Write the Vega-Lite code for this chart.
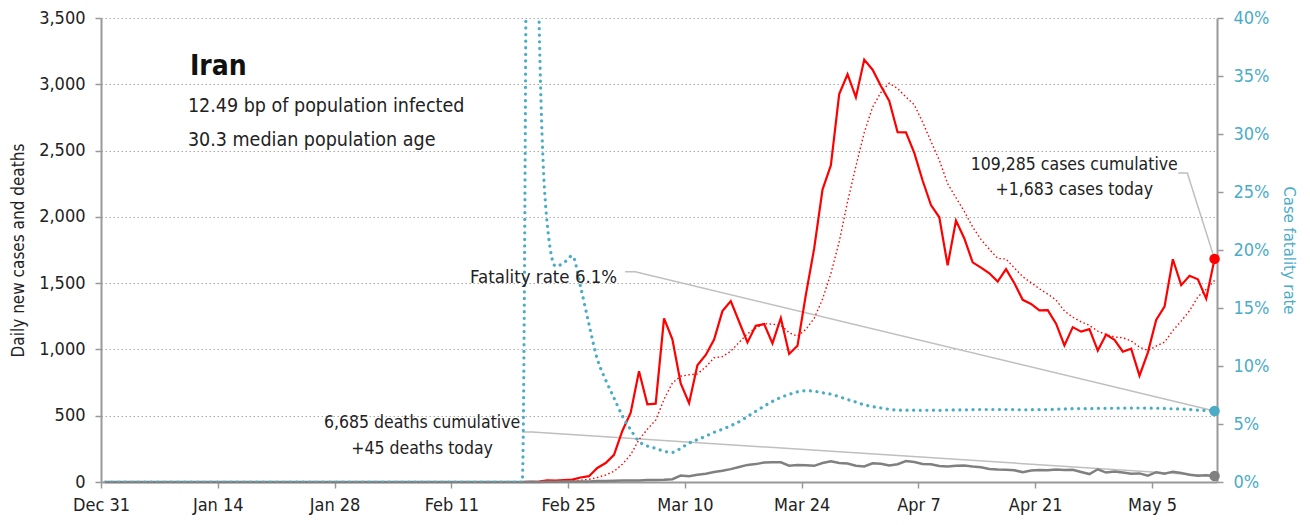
{
  "$schema": "https://vega.github.io/schema/vega-lite/v6.json",
  "width": 1116,
  "height": 464,
  "autosize": {"type": "none"},
  "padding": {"left": 101, "top": 18, "right": 93, "bottom": 43},
  "background": "white",
  "config": {
    "font": "DejaVu Sans Condensed, sans-serif",
    "view": {"stroke": null}
  },
  "datasets": {
    "daily": [
      {"date":"2019-12-31T12:00","cases":0,"avg7":0,"deaths":0,"cfr":0},
      {"date":"2020-01-01T12:00","cases":0,"avg7":0,"deaths":0,"cfr":0},
      {"date":"2020-01-02T12:00","cases":0,"avg7":0,"deaths":0,"cfr":0},
      {"date":"2020-01-03T12:00","cases":0,"avg7":0,"deaths":0,"cfr":0},
      {"date":"2020-01-04T12:00","cases":0,"avg7":0,"deaths":0,"cfr":0},
      {"date":"2020-01-05T12:00","cases":0,"avg7":0,"deaths":0,"cfr":0},
      {"date":"2020-01-06T12:00","cases":0,"avg7":0,"deaths":0,"cfr":0},
      {"date":"2020-01-07T12:00","cases":0,"avg7":0,"deaths":0,"cfr":0},
      {"date":"2020-01-08T12:00","cases":0,"avg7":0,"deaths":0,"cfr":0},
      {"date":"2020-01-09T12:00","cases":0,"avg7":0,"deaths":0,"cfr":0},
      {"date":"2020-01-10T12:00","cases":0,"avg7":0,"deaths":0,"cfr":0},
      {"date":"2020-01-11T12:00","cases":0,"avg7":0,"deaths":0,"cfr":0},
      {"date":"2020-01-12T12:00","cases":0,"avg7":0,"deaths":0,"cfr":0},
      {"date":"2020-01-13T12:00","cases":0,"avg7":0,"deaths":0,"cfr":0},
      {"date":"2020-01-14T12:00","cases":0,"avg7":0,"deaths":0,"cfr":0},
      {"date":"2020-01-15T12:00","cases":0,"avg7":0,"deaths":0,"cfr":0},
      {"date":"2020-01-16T12:00","cases":0,"avg7":0,"deaths":0,"cfr":0},
      {"date":"2020-01-17T12:00","cases":0,"avg7":0,"deaths":0,"cfr":0},
      {"date":"2020-01-18T12:00","cases":0,"avg7":0,"deaths":0,"cfr":0},
      {"date":"2020-01-19T12:00","cases":0,"avg7":0,"deaths":0,"cfr":0},
      {"date":"2020-01-20T12:00","cases":0,"avg7":0,"deaths":0,"cfr":0},
      {"date":"2020-01-21T12:00","cases":0,"avg7":0,"deaths":0,"cfr":0},
      {"date":"2020-01-22T12:00","cases":0,"avg7":0,"deaths":0,"cfr":0},
      {"date":"2020-01-23T12:00","cases":0,"avg7":0,"deaths":0,"cfr":0},
      {"date":"2020-01-24T12:00","cases":0,"avg7":0,"deaths":0,"cfr":0},
      {"date":"2020-01-25T12:00","cases":0,"avg7":0,"deaths":0,"cfr":0},
      {"date":"2020-01-26T12:00","cases":0,"avg7":0,"deaths":0,"cfr":0},
      {"date":"2020-01-27T12:00","cases":0,"avg7":0,"deaths":0,"cfr":0},
      {"date":"2020-01-28T12:00","cases":0,"avg7":0,"deaths":0,"cfr":0},
      {"date":"2020-01-29T12:00","cases":0,"avg7":0,"deaths":0,"cfr":0},
      {"date":"2020-01-30T12:00","cases":0,"avg7":0,"deaths":0,"cfr":0},
      {"date":"2020-01-31T12:00","cases":0,"avg7":0,"deaths":0,"cfr":0},
      {"date":"2020-02-01T12:00","cases":0,"avg7":0,"deaths":0,"cfr":0},
      {"date":"2020-02-02T12:00","cases":0,"avg7":0,"deaths":0,"cfr":0},
      {"date":"2020-02-03T12:00","cases":0,"avg7":0,"deaths":0,"cfr":0},
      {"date":"2020-02-04T12:00","cases":0,"avg7":0,"deaths":0,"cfr":0},
      {"date":"2020-02-05T12:00","cases":0,"avg7":0,"deaths":0,"cfr":0},
      {"date":"2020-02-06T12:00","cases":0,"avg7":0,"deaths":0,"cfr":0},
      {"date":"2020-02-07T12:00","cases":0,"avg7":0,"deaths":0,"cfr":0},
      {"date":"2020-02-08T12:00","cases":0,"avg7":0,"deaths":0,"cfr":0},
      {"date":"2020-02-09T12:00","cases":0,"avg7":0,"deaths":0,"cfr":0},
      {"date":"2020-02-10T12:00","cases":0,"avg7":0,"deaths":0,"cfr":0},
      {"date":"2020-02-11T12:00","cases":0,"avg7":0,"deaths":0,"cfr":0},
      {"date":"2020-02-12T12:00","cases":0,"avg7":0,"deaths":0,"cfr":0},
      {"date":"2020-02-13T12:00","cases":0,"avg7":0,"deaths":0,"cfr":0},
      {"date":"2020-02-14T12:00","cases":0,"avg7":0,"deaths":0,"cfr":0},
      {"date":"2020-02-15T12:00","cases":0,"avg7":0,"deaths":0,"cfr":0},
      {"date":"2020-02-16T12:00","cases":0,"avg7":0,"deaths":0,"cfr":0},
      {"date":"2020-02-17T12:00","cases":0,"avg7":0,"deaths":0,"cfr":0},
      {"date":"2020-02-18T12:00","cases":0,"avg7":0,"deaths":0,"cfr":0},
      {"date":"2020-02-19T12:00","cases":0,"avg7":0,"deaths":0,"cfr":0},
      {"date":"2020-02-20T12:00","cases":2,"avg7":0.3,"deaths":2,"cfr":1.0},
      {"date":"2020-02-21T12:00","cases":3,"avg7":0.7,"deaths":0,"cfr":0.405},
      {"date":"2020-02-22T12:00","cases":13,"avg7":2.6,"deaths":2,"cfr":0.222},
      {"date":"2020-02-23T12:00","cases":10,"avg7":4.0,"deaths":1,"cfr":0.186},
      {"date":"2020-02-24T12:00","cases":15,"avg7":6.1,"deaths":3,"cfr":0.189},
      {"date":"2020-02-25T12:00","cases":18,"avg7":8.7,"deaths":4,"cfr":0.195},
      {"date":"2020-02-26T12:00","cases":34,"avg7":13.6,"deaths":4,"cfr":0.168},
      {"date":"2020-02-27T12:00","cases":44,"avg7":19.6,"deaths":3,"cfr":0.136},
      {"date":"2020-02-28T12:00","cases":106,"avg7":34.3,"deaths":7,"cfr":0.106},
      {"date":"2020-02-29T12:00","cases":143,"avg7":52.9,"deaths":8,"cfr":0.088},
      {"date":"2020-03-01T12:00","cases":205,"avg7":80.7,"deaths":9,"cfr":0.0725},
      {"date":"2020-03-02T12:00","cases":385,"avg7":133.6,"deaths":11,"cfr":0.057},
      {"date":"2020-03-03T12:00","cases":523,"avg7":205.7,"deaths":12,"cfr":0.045},
      {"date":"2020-03-04T12:00","cases":835,"avg7":320.1,"deaths":11,"cfr":0.035},
      {"date":"2020-03-05T12:00","cases":586,"avg7":397.6,"deaths":15,"cfr":0.031},
      {"date":"2020-03-06T12:00","cases":591,"avg7":466.9,"deaths":15,"cfr":0.029},
      {"date":"2020-03-07T12:00","cases":1234,"avg7":622.7,"deaths":17,"cfr":0.0265},
      {"date":"2020-03-08T12:00","cases":1076,"avg7":747.1,"deaths":21,"cfr":0.0255},
      {"date":"2020-03-09T12:00","cases":743,"avg7":798.3,"deaths":49,"cfr":0.029},
      {"date":"2020-03-10T12:00","cases":595,"avg7":808.6,"deaths":43,"cfr":0.0335},
      {"date":"2020-03-11T12:00","cases":881,"avg7":815.1,"deaths":54,"cfr":0.0365},
      {"date":"2020-03-12T12:00","cases":958,"avg7":868.3,"deaths":63,"cfr":0.0395},
      {"date":"2020-03-13T12:00","cases":1075,"avg7":937.4,"deaths":75,"cfr":0.0428},
      {"date":"2020-03-14T12:00","cases":1289,"avg7":945.3,"deaths":85,"cfr":0.0455},
      {"date":"2020-03-15T12:00","cases":1365,"avg7":986.6,"deaths":97,"cfr":0.0485},
      {"date":"2020-03-16T12:00","cases":1209,"avg7":1053.1,"deaths":113,"cfr":0.052},
      {"date":"2020-03-17T12:00","cases":1053,"avg7":1118.6,"deaths":129,"cfr":0.0565},
      {"date":"2020-03-18T12:00","cases":1178,"avg7":1161.0,"deaths":135,"cfr":0.061},
      {"date":"2020-03-19T12:00","cases":1192,"avg7":1194.4,"deaths":147,"cfr":0.0654},
      {"date":"2020-03-20T12:00","cases":1046,"avg7":1190.3,"deaths":149,"cfr":0.0695},
      {"date":"2020-03-21T12:00","cases":1237,"avg7":1182.9,"deaths":149,"cfr":0.0729},
      {"date":"2020-03-22T12:00","cases":966,"avg7":1125.9,"deaths":123,"cfr":0.0755},
      {"date":"2020-03-23T12:00","cases":1028,"avg7":1100.0,"deaths":129,"cfr":0.0777},
      {"date":"2020-03-24T12:00","cases":1411,"avg7":1151.1,"deaths":127,"cfr":0.0786},
      {"date":"2020-03-25T12:00","cases":1762,"avg7":1234.6,"deaths":122,"cfr":0.0782},
      {"date":"2020-03-26T12:00","cases":2206,"avg7":1379.4,"deaths":143,"cfr":0.0769},
      {"date":"2020-03-27T12:00","cases":2389,"avg7":1571.3,"deaths":157,"cfr":0.0757},
      {"date":"2020-03-28T12:00","cases":2926,"avg7":1812.6,"deaths":144,"cfr":0.0735},
      {"date":"2020-03-29T12:00","cases":3076,"avg7":2114.0,"deaths":139,"cfr":0.0711},
      {"date":"2020-03-30T12:00","cases":2901,"avg7":2381.6,"deaths":123,"cfr":0.0689},
      {"date":"2020-03-31T12:00","cases":3186,"avg7":2635.1,"deaths":117,"cfr":0.0665},
      {"date":"2020-04-01T12:00","cases":3110,"avg7":2827.7,"deaths":141,"cfr":0.065},
      {"date":"2020-04-02T12:00","cases":2987,"avg7":2939.3,"deaths":138,"cfr":0.0638},
      {"date":"2020-04-03T12:00","cases":2875,"avg7":3008.7,"deaths":124,"cfr":0.0627},
      {"date":"2020-04-04T12:00","cases":2638,"avg7":2967.6,"deaths":134,"cfr":0.062},
      {"date":"2020-04-05T12:00","cases":2637,"avg7":2904.9,"deaths":158,"cfr":0.0619},
      {"date":"2020-04-06T12:00","cases":2483,"avg7":2845.1,"deaths":151,"cfr":0.0619},
      {"date":"2020-04-07T12:00","cases":2274,"avg7":2714.9,"deaths":136,"cfr":0.0618},
      {"date":"2020-04-08T12:00","cases":2089,"avg7":2569.0,"deaths":133,"cfr":0.0619},
      {"date":"2020-04-09T12:00","cases":1997,"avg7":2427.6,"deaths":121,"cfr":0.0618},
      {"date":"2020-04-10T12:00","cases":1634,"avg7":2250.3,"deaths":117,"cfr":0.0621},
      {"date":"2020-04-11T12:00","cases":1972,"avg7":2144.1,"deaths":122,"cfr":0.0621},
      {"date":"2020-04-12T12:00","cases":1837,"avg7":2040.9,"deaths":125,"cfr":0.0622},
      {"date":"2020-04-13T12:00","cases":1657,"avg7":1922.9,"deaths":117,"cfr":0.0624},
      {"date":"2020-04-14T12:00","cases":1617,"avg7":1829.0,"deaths":111,"cfr":0.0625},
      {"date":"2020-04-15T12:00","cases":1574,"avg7":1755.4,"deaths":98,"cfr":0.0625},
      {"date":"2020-04-16T12:00","cases":1512,"avg7":1686.1,"deaths":94,"cfr":0.0625},
      {"date":"2020-04-17T12:00","cases":1606,"avg7":1682.1,"deaths":92,"cfr":0.0624},
      {"date":"2020-04-18T12:00","cases":1499,"avg7":1614.6,"deaths":89,"cfr":0.0624},
      {"date":"2020-04-19T12:00","cases":1374,"avg7":1548.4,"deaths":73,"cfr":0.0622},
      {"date":"2020-04-20T12:00","cases":1343,"avg7":1503.6,"deaths":87,"cfr":0.0623},
      {"date":"2020-04-21T12:00","cases":1294,"avg7":1457.4,"deaths":91,"cfr":0.0624},
      {"date":"2020-04-22T12:00","cases":1297,"avg7":1417.9,"deaths":88,"cfr":0.0625},
      {"date":"2020-04-23T12:00","cases":1194,"avg7":1372.4,"deaths":94,"cfr":0.0627},
      {"date":"2020-04-24T12:00","cases":1030,"avg7":1290.1,"deaths":90,"cfr":0.063},
      {"date":"2020-04-25T12:00","cases":1168,"avg7":1242.9,"deaths":93,"cfr":0.0632},
      {"date":"2020-04-26T12:00","cases":1134,"avg7":1208.6,"deaths":76,"cfr":0.0633},
      {"date":"2020-04-27T12:00","cases":1153,"avg7":1181.4,"deaths":60,"cfr":0.0631},
      {"date":"2020-04-28T12:00","cases":991,"avg7":1138.1,"deaths":96,"cfr":0.0635},
      {"date":"2020-04-29T12:00","cases":1112,"avg7":1111.7,"deaths":71,"cfr":0.0635},
      {"date":"2020-04-30T12:00","cases":1073,"avg7":1094.4,"deaths":80,"cfr":0.0636},
      {"date":"2020-05-01T12:00","cases":983,"avg7":1087.7,"deaths":71,"cfr":0.0637},
      {"date":"2020-05-02T12:00","cases":1006,"avg7":1064.6,"deaths":63,"cfr":0.0637},
      {"date":"2020-05-03T12:00","cases":802,"avg7":1017.1,"deaths":65,"cfr":0.0638},
      {"date":"2020-05-04T12:00","cases":976,"avg7":991.9,"deaths":47,"cfr":0.0637},
      {"date":"2020-05-05T12:00","cases":1223,"avg7":1025.0,"deaths":74,"cfr":0.0636},
      {"date":"2020-05-06T12:00","cases":1323,"avg7":1055.1,"deaths":63,"cfr":0.0634},
      {"date":"2020-05-07T12:00","cases":1680,"avg7":1141.9,"deaths":78,"cfr":0.0631},
      {"date":"2020-05-08T12:00","cases":1485,"avg7":1213.6,"deaths":68,"cfr":0.0629},
      {"date":"2020-05-09T12:00","cases":1556,"avg7":1292.1,"deaths":55,"cfr":0.0625},
      {"date":"2020-05-10T12:00","cases":1529,"avg7":1396.0,"deaths":48,"cfr":0.062},
      {"date":"2020-05-11T12:00","cases":1383,"avg7":1454.1,"deaths":51,"cfr":0.0617},
      {"date":"2020-05-12T12:00","cases":1683,"avg7":1519.9,"deaths":45,"cfr":0.0612}
    ]
  },
  "encoding": {
    "x": {
      "field": "date",
      "type": "temporal",
      "scale": {"domain": [{"year": 2019, "month": 12, "date": 31}, {"year": 2020, "month": 5, "date": 12, "hours": 19}]},
      "axis": {
        "values": [
          {"year": 2019, "month": 12, "date": 31},
          {"year": 2020, "month": 1, "date": 14},
          {"year": 2020, "month": 1, "date": 28},
          {"year": 2020, "month": 2, "date": 11},
          {"year": 2020, "month": 2, "date": 25},
          {"year": 2020, "month": 3, "date": 10},
          {"year": 2020, "month": 3, "date": 24},
          {"year": 2020, "month": 4, "date": 7},
          {"year": 2020, "month": 4, "date": 21},
          {"year": 2020, "month": 5, "date": 5}
        ],
        "format": "%b %-d",
        "title": null,
        "grid": false,
        "domainColor": "#999999",
        "domainWidth": 2,
        "tickColor": "#999999",
        "tickWidth": 1.5,
        "tickSize": 6,
        "labelFontSize": 18,
        "labelColor": "#222222",
        "labelPadding": 8,
        "labelFlush": false
      }
    }
  },
  "layer": [
    {
      "data": {"values": [
        {"group": "cases", "step": 1, "date": "2020-05-08T03:36", "value": 2331},
        {"group": "cases", "step": 2, "date": "2020-05-09T05:30", "value": 2331},
        {"group": "cases", "step": 3, "date": "2020-05-12T12:00", "value": 1683},
        {"group": "cfr", "step": 1, "date": "2020-03-02T20:10", "value": 1586},
        {"group": "cfr", "step": 2, "date": "2020-03-04T01:00", "value": 1586},
        {"group": "cfr", "step": 3, "date": "2020-05-12T12:00", "value": 535.5},
        {"group": "deaths", "step": 1, "date": "2020-02-19T11:45", "value": 377},
        {"group": "deaths", "step": 2, "date": "2020-02-20T16:20", "value": 377},
        {"group": "deaths", "step": 3, "date": "2020-05-12T12:00", "value": 45}
      ]},
      "mark": {"type": "line", "color": "#bfbfbf", "strokeWidth": 1.5},
      "encoding": {
        "y": {
          "field": "value", "type": "quantitative",
          "scale": {"domain": [0, 3500], "nice": false},
          "axis": {
            "orient": "left",
            "values": [0, 500, 1000, 1500, 2000, 2500, 3000, 3500],
            "format": ",d",
            "title": "Daily new cases and deaths",
            "titleFontSize": 17,
            "titleFontWeight": "normal",
            "titleColor": "#222222",
            "titleX": -83,
            "titleY": 232,
            "titleAngle": -90,
            "titleAlign": "center",
            "titleBaseline": "middle",
            "grid": true,
            "gridColor": "#aaaaaa",
            "gridDash": [1.5, 2.5],
            "gridWidth": 1,
            "domainColor": "#999999",
            "domainWidth": 2,
            "tickColor": "#999999",
            "tickWidth": 1.5,
            "tickSize": 6,
            "labelFontSize": 18,
            "labelColor": "#222222",
            "labelPadding": 10
          }
        },
        "detail": {"field": "group"},
        "order": {"field": "step", "type": "quantitative"}
      }
    },
    {
      "data": {"name": "daily"},
      "mark": {"type": "line", "color": "#ff0000", "strokeWidth": 2.2},
      "encoding": {"y": {"field": "cases", "type": "quantitative", "scale": {"domain": [0, 3500], "nice": false}, "axis": null}}
    },
    {
      "data": {"name": "daily"},
      "mark": {"type": "line", "color": "#ff0000", "strokeWidth": 1.4, "strokeDash": [1.5, 2.5]},
      "encoding": {"y": {"field": "avg7", "type": "quantitative", "scale": {"domain": [0, 3500], "nice": false}, "axis": null}}
    },
    {
      "data": {"name": "daily"},
      "mark": {"type": "line", "color": "#808080", "strokeWidth": 2.5},
      "encoding": {"y": {"field": "deaths", "type": "quantitative", "scale": {"domain": [0, 3500], "nice": false}, "axis": null}}
    },
    {
      "data": {"name": "daily"},
      "mark": {"type": "line", "color": "#4bacc6", "strokeWidth": 3.2, "strokeDash": [0.1, 6.5], "strokeCap": "round", "interpolate": "monotone", "clip": true},
      "encoding": {
        "y": {
          "field": "cfr", "type": "quantitative",
          "scale": {"domain": [0, 0.4], "nice": false},
          "axis": {
            "orient": "right",
            "values": [0, 0.05, 0.1, 0.15, 0.2, 0.25, 0.3, 0.35, 0.4],
            "format": ".0%",
            "title": "Case fatality rate",
            "titleColor": "#4bacc6",
            "titleFontSize": 16.5,
            "titleFontWeight": "normal",
            "titleAngle": 90,
            "titleX": 71,
            "titleY": 232,
            "titleAlign": "center",
            "titleBaseline": "middle",
            "grid": false,
            "domainColor": "#999999",
            "domainWidth": 2,
            "tickColor": "#999999",
            "tickWidth": 1.5,
            "tickSize": 6,
            "labelColor": "#4bacc6",
            "labelFontSize": 18,
            "labelPadding": 10
          }
        }
      }
    },
    {
      "data": {"values": [{"date": "2020-05-12T12:00", "value": 1683}]},
      "mark": {"type": "point", "filled": true, "opacity": 1, "color": "#ff0000", "size": 110},
      "encoding": {"y": {"field": "value", "type": "quantitative", "scale": {"domain": [0, 3500], "nice": false}, "axis": null}}
    },
    {
      "data": {"values": [{"date": "2020-05-12T12:00", "value": 45}]},
      "mark": {"type": "point", "filled": true, "opacity": 1, "color": "#808080", "size": 110},
      "encoding": {"y": {"field": "value", "type": "quantitative", "scale": {"domain": [0, 3500], "nice": false}, "axis": null}}
    },
    {
      "data": {"values": [{"date": "2020-05-12T12:00", "cfr": 0.0612}]},
      "mark": {"type": "point", "filled": true, "opacity": 1, "color": "#4bacc6", "size": 110},
      "encoding": {"y": {"field": "cfr", "type": "quantitative", "scale": {"domain": [0, 0.4], "nice": false}, "axis": null}}
    },
    {
      "data": {"values": [{"date": "2020-01-10T16:00", "value": 3070, "label": "Iran"}]},
      "mark": {"type": "text", "align": "left", "baseline": "alphabetic", "fontSize": 28, "fontWeight": "bold", "color": "#111111"},
      "encoding": {"y": {"field": "value", "type": "quantitative", "scale": {"domain": [0, 3500], "nice": false}, "axis": null}, "text": {"field": "label"}}
    },
    {
      "data": {"values": [
        {"date": "2020-01-10T10:00", "value": 2791, "label": "12.49 bp of population infected"},
        {"date": "2020-01-10T10:00", "value": 2535, "label": "30.3 median population age"}
      ]},
      "mark": {"type": "text", "align": "left", "baseline": "alphabetic", "fontSize": 19.5, "color": "#222222"},
      "encoding": {"y": {"field": "value", "type": "quantitative", "scale": {"domain": [0, 3500], "nice": false}, "axis": null}, "text": {"field": "label"}}
    },
    {
      "data": {"values": [
        {"date": "2020-04-25T16:20", "value": 2353, "label": "109,285 cases cumulative"},
        {"date": "2020-04-25T16:20", "value": 2165, "label": "+1,683 cases today"},
        {"date": "2020-02-07T11:45", "value": 404, "label": "6,685 deaths cumulative"},
        {"date": "2020-02-07T11:45", "value": 211, "label": "+45 deaths today"}
      ]},
      "mark": {"type": "text", "align": "center", "baseline": "alphabetic", "fontSize": 17.5, "color": "#222222"},
      "encoding": {"y": {"field": "value", "type": "quantitative", "scale": {"domain": [0, 3500], "nice": false}, "axis": null}, "text": {"field": "label"}}
    },
    {
      "data": {"values": [{"date": "2020-03-01T21:10", "value": 1503, "label": "Fatality rate 6.1%"}]},
      "mark": {"type": "text", "align": "right", "baseline": "alphabetic", "fontSize": 18.5, "color": "#222222"},
      "encoding": {"y": {"field": "value", "type": "quantitative", "scale": {"domain": [0, 3500], "nice": false}, "axis": null}, "text": {"field": "label"}}
    }
  ],
  "resolve": {"scale": {"y": "independent"}}
}
